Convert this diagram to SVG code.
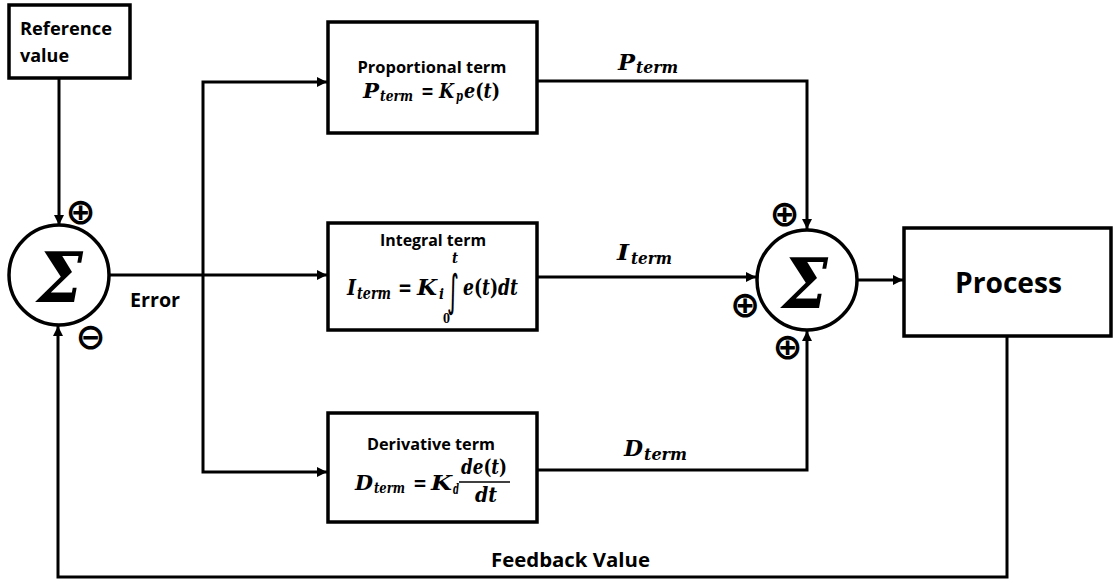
<svg xmlns="http://www.w3.org/2000/svg" width="1113" height="581" viewBox="0 0 1113 581">
<style>
.box{fill:#fff;stroke:#000;stroke-width:3.5}
.ln{fill:none;stroke:#000;stroke-width:3}
.lbl{font-family:"Open Sans","Liberation Sans",sans-serif;font-weight:bold;fill:#000}
.m{font-family:"DejaVu Serif","Liberation Serif",serif;font-weight:bold;font-style:italic;fill:#000}
.mu{font-family:"DejaVu Serif","Liberation Serif",serif;font-weight:bold;font-style:normal;fill:#000}
.sg{font-family:"DejaVu Sans",sans-serif;font-weight:bold;fill:#000;dominant-baseline:central;text-anchor:middle}
.int{font-family:"DejaVu Sans",sans-serif;fill:#000}
</style>
<defs>
<marker id="ah" viewBox="0 0 10 10" refX="10" refY="5" markerWidth="11" markerHeight="10" markerUnits="userSpaceOnUse" orient="auto">
<path d="M0,0 L10,5 L0,10 z" fill="#000"/>
</marker>
</defs>
<rect width="1113" height="581" fill="#fff"/>
<g id="connectors">
<path class="ln" d="M59,78 V225" marker-end="url(#ah)"/>
<path class="ln" d="M109,275 H327" marker-end="url(#ah)"/>
<path class="ln" d="M203,275 V82 H327" marker-end="url(#ah)"/>
<path class="ln" d="M203,275 V472 H327" marker-end="url(#ah)"/>
<path class="ln" d="M537,81 H807 V229" marker-end="url(#ah)"/>
<path class="ln" d="M537,277 H756" marker-end="url(#ah)"/>
<path class="ln" d="M537,470 H807 V331" marker-end="url(#ah)"/>
<path class="ln" d="M858,280 H903" marker-end="url(#ah)"/>
<path class="ln" d="M1007,336 V577 H58 V326" marker-end="url(#ah)"/>
<text class="lbl" x="130" y="307" font-size="19" textLength="50" lengthAdjust="spacingAndGlyphs">Error</text>
<text class="m" x="618" y="70" font-size="22" textLength="17" lengthAdjust="spacingAndGlyphs">P</text>
<text class="m" x="636" y="73" font-size="16" textLength="42" lengthAdjust="spacingAndGlyphs">term</text>
<text class="m" x="617" y="260" font-size="22" textLength="12" lengthAdjust="spacingAndGlyphs">I</text>
<text class="m" x="631" y="264" font-size="16" textLength="41" lengthAdjust="spacingAndGlyphs">term</text>
<text class="m" x="624" y="456" font-size="22" textLength="19" lengthAdjust="spacingAndGlyphs">D</text>
<text class="m" x="644" y="460" font-size="16" textLength="43" lengthAdjust="spacingAndGlyphs">term</text>
<text class="lbl" x="491" y="567" font-size="20" textLength="159" lengthAdjust="spacingAndGlyphs">Feedback Value</text>
</g>
<g id="reference">
<rect class="box" x="9" y="5" width="121" height="73"/>
<text class="lbl" x="20" y="35" font-size="18" textLength="92" lengthAdjust="spacingAndGlyphs">Reference</text>
<text class="lbl" x="20" y="62" font-size="18">value</text>
</g>
<g id="sum1">
<circle class="box" cx="59" cy="275" r="50" stroke-width="3"/>
<text class="m" x="37" y="302" font-size="70" textLength="46" lengthAdjust="spacingAndGlyphs">Σ</text>
<text class="sg" x="80.5" y="211.5" font-size="36">⊕</text>
<text class="sg" x="90.5" y="336.5" font-size="36">⊖</text>
</g>
<g id="proportional">
<rect class="box" x="328" y="22" width="209" height="111"/>
<text class="lbl" x="432" y="73" font-size="16" text-anchor="middle" textLength="149" lengthAdjust="spacingAndGlyphs">Proportional term</text>
<text class="m" x="363" y="98" font-size="21" textLength="16" lengthAdjust="spacingAndGlyphs">P</text>
<text class="m" x="380" y="101" font-size="15" textLength="33" lengthAdjust="spacingAndGlyphs">term</text>
<text class="mu" x="421" y="98" font-size="21" textLength="13" lengthAdjust="spacingAndGlyphs">=</text>
<text class="m" x="439" y="98" font-size="21" textLength="15" lengthAdjust="spacingAndGlyphs">K</text>
<text class="m" x="456" y="101" font-size="14" textLength="7" lengthAdjust="spacingAndGlyphs">p</text>
<text x="464" y="98" font-size="21" textLength="36" lengthAdjust="spacingAndGlyphs"><tspan class="m">e</tspan><tspan class="mu">(</tspan><tspan class="m">t</tspan><tspan class="mu">)</tspan></text>
</g>
<g id="integral">
<rect class="box" x="328" y="223" width="209" height="107"/>
<text class="lbl" x="433" y="246" font-size="16" text-anchor="middle" textLength="106" lengthAdjust="spacingAndGlyphs">Integral term</text>
<text class="m" x="347" y="295" font-size="23" textLength="9" lengthAdjust="spacingAndGlyphs">I</text>
<text class="m" x="357" y="299" font-size="16" textLength="34" lengthAdjust="spacingAndGlyphs">term</text>
<text class="mu" x="398" y="295" font-size="22" textLength="14" lengthAdjust="spacingAndGlyphs">=</text>
<text class="m" x="417" y="295" font-size="22" textLength="20" lengthAdjust="spacingAndGlyphs">K</text>
<text class="m" x="439" y="299" font-size="15" textLength="5" lengthAdjust="spacingAndGlyphs">i</text>
<text class="int" x="447" y="306" font-size="44" textLength="12" lengthAdjust="spacingAndGlyphs">∫</text>
<text class="m" x="452" y="263" font-size="14" textLength="6" lengthAdjust="spacingAndGlyphs">t</text>
<text class="mu" x="443" y="323" font-size="13" textLength="7" lengthAdjust="spacingAndGlyphs">0</text>
<text x="463" y="295" font-size="22" textLength="55" lengthAdjust="spacingAndGlyphs"><tspan class="m">e</tspan><tspan class="mu">(</tspan><tspan class="m">t</tspan><tspan class="mu">)</tspan><tspan class="m">dt</tspan></text>
</g>
<g id="derivative">
<rect class="box" x="328" y="413" width="209" height="109"/>
<text class="lbl" x="431" y="450" font-size="16" text-anchor="middle" textLength="128" lengthAdjust="spacingAndGlyphs">Derivative term</text>
<text class="m" x="355" y="490" font-size="21" textLength="18" lengthAdjust="spacingAndGlyphs">D</text>
<text class="m" x="374" y="493" font-size="15" textLength="31" lengthAdjust="spacingAndGlyphs">term</text>
<text class="mu" x="413" y="490" font-size="21" textLength="14" lengthAdjust="spacingAndGlyphs">=</text>
<text class="m" x="431" y="490" font-size="21" textLength="21" lengthAdjust="spacingAndGlyphs">K</text>
<text class="m" x="453" y="494" font-size="14" textLength="6" lengthAdjust="spacingAndGlyphs">d</text>
<text x="461" y="474" font-size="20" textLength="46" lengthAdjust="spacingAndGlyphs"><tspan class="m">de</tspan><tspan class="mu">(</tspan><tspan class="m">t</tspan><tspan class="mu">)</tspan></text>
<line x1="459" y1="482" x2="510" y2="482" stroke="#000" stroke-width="1.3"/>
<text class="m" x="475" y="502" font-size="20" textLength="22" lengthAdjust="spacingAndGlyphs">dt</text>
</g>
<g id="sum2">
<circle class="box" cx="807" cy="280" r="50" stroke-width="3"/>
<text class="m" x="782" y="308" font-size="70" textLength="46" lengthAdjust="spacingAndGlyphs">Σ</text>
<text class="sg" x="784.5" y="213.5" font-size="36">⊕</text>
<text class="sg" x="745" y="304.5" font-size="36">⊕</text>
<text class="sg" x="787.5" y="346.5" font-size="36">⊕</text>
</g>
<g id="process">
<rect class="box" x="904" y="228" width="207" height="108"/>
<text class="lbl" x="955" y="293" font-size="28" textLength="107" lengthAdjust="spacingAndGlyphs">Process</text>
</g>
</svg>
